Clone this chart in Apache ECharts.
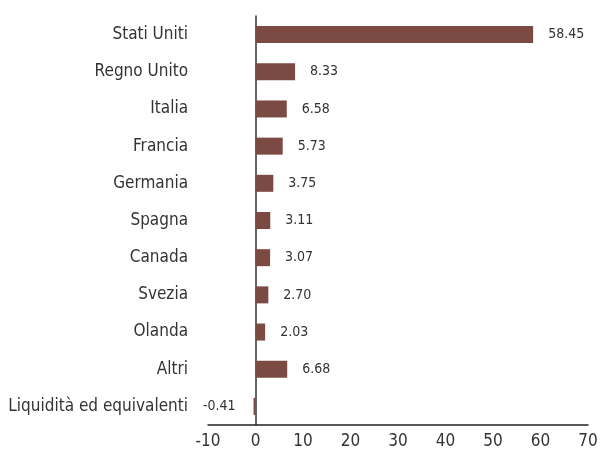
<!DOCTYPE html>
<html lang="it">
<head>
    <meta charset="UTF-8">
    <title>Ripartizione per paese</title>
    <script src="https://cdn.jsdelivr.net/npm/echarts@6/dist/echarts.min.js"></script>
    <style>
        html, body { margin: 0; padding: 0; background: #fff; }
        #main { width: 600px; height: 461px; }
    </style>
</head>
<body>
<div id="main"></div>
<script>
    var paesi = ['Stati Uniti', 'Regno Unito', 'Italia', 'Francia', 'Germania', 'Spagna',
        'Canada', 'Svezia', 'Olanda', 'Altri', 'Liquidità ed equivalenti'];
    var pesi = [58.45, 8.33, 6.58, 5.73, 3.75, 3.11, 3.07, 2.70, 2.03, 6.68, -0.41];

    var font = '"DejaVu Sans Condensed", "Liberation Sans Narrow", sans-serif';
    var myChart = echarts.init(document.getElementById('main'));

    var option = {
        animation: false,
        textStyle: { fontFamily: font },
        grid: { left: 208, right: 12, top: 16, bottom: 36, containLabel: false, outerBoundsMode: 'none' },
        xAxis: {
            type: 'value',
            min: -10,
            max: 70,
            interval: 10,
            splitLine: { show: false },
            axisTick: { show: false },
            axisLine: { show: true, onZero: false, lineStyle: { color: '#222', width: 1.5 } },
            axisLabel: { color: '#333', fontSize: 17, margin: 8, fontFamily: font }
        },
        yAxis: {
            type: 'category',
            inverse: true,
            data: paesi,
            axisTick: { show: false },
            axisLine: { show: true, onZero: true, lineStyle: { color: '#333', width: 1.5 } },
            axisLabel: { color: '#333', fontSize: 17, margin: 20, fontFamily: font }
        },
        series: [{
            type: 'bar',
            barWidth: 17,
            data: pesi.map(function (v) {
                return {
                    value: v,
                    label: {
                        position: v < 0 ? 'left' : 'right',
                        distance: v < 0 ? 18 : 15
                    }
                };
            }),
            itemStyle: { color: '#7b4a42' },
            label: {
                show: true,
                color: '#333',
                fontSize: 14,
                fontFamily: font,
                formatter: function (p) { return p.value.toFixed(2); }
            }
        }]
    };
    myChart.setOption(option);
</script>
</body>
</html>
